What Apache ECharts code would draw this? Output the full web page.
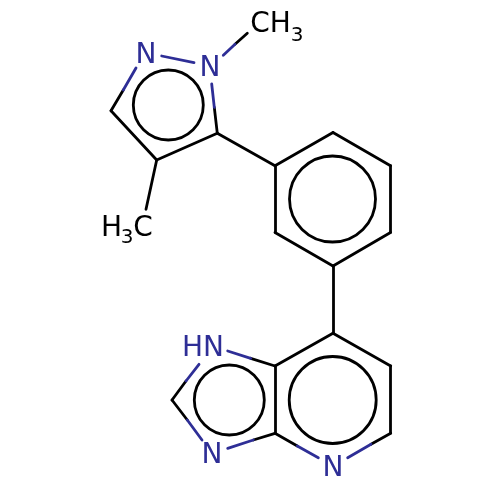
<!DOCTYPE html>
<html><head><meta charset="utf-8">
<style>html,body{margin:0;padding:0;background:#fff}#c{width:500px;height:500px}</style>
<script src="https://cdn.jsdelivr.net/npm/echarts@6/dist/echarts.min.js"></script>
</head><body><div id="c"></div>
<script>
const blackBonds = [
 [[123.3,90],[111,110.7]],[[111,110.7],[156.7,160]],[[156.7,160],[217.3,133.3]],
 [[214.3,107.3],[217.3,133.3]],[[235,44.3],[247.3,33.3]],[[156.7,160],[146,209.3]],
 [[217.3,133.3],[275,165.7]],
 [[275,165.7],[333,132.5]],[[333,132.5],[390.5,165.7]],[[390.5,165.7],[390.5,232.5]],
 [[390.5,232.5],[333,266]],[[333,266],[275,232.5]],[[275,232.5],[275,165.7]],
 [[333,266],[333,333.3]],
 [[333,333.3],[390.7,366]],[[390.7,366],[390.7,433.3]],[[371,444.3],[390.7,433.3]],
 [[275,433.3],[297.3,446]],[[275,433.3],[275,366]],[[275,366],[333,333.3]],
 [[250.7,358.3],[275,366]],[[186,381],[172,400]],[[172,400],[187.3,420]],[[253.3,440],[275,433.3]]
];
const blueBonds = [
 [[136,68],[123.3,90]],[[161.7,56],[194,62.7]],[[211.7,84],[214.3,107.3]],[[223.3,55.3],[235,44.3]],
 [[227.7,351],[250.7,358.3]],[[199,364.3],[186,381]],[[187.3,420],[202,440]],[[227.7,448.3],[253.3,440]],
 [[297.3,446],[318.3,457.7]],[[347.7,457.7],[371,444.3]]
];
const rings = [[168.3,105,35],[332.5,199,43],[229.3,400,35],[332.7,400,43.5]];
const blueLabels = [[146,56,'N'],[210,68.5,'N'],[203,349,'HN'],[212,455.5,'N'],[333,468.5,'N']];
const blackLabels = [[270.5,25,'CH'],[111.5,228.5,'H'],[143,228.5,'C']];
const subLabels = [[297,36,'3'],[127,238,'3']];
const BLACK='#000000', BLUE='#2e2e96';
const toLines = b => b.map(c => ({coords:c}));
const lineSeries = (b,color) => ({type:'lines',coordinateSystem:'cartesian2d',polyline:false,silent:true,
  lineStyle:{color,width:2.8,opacity:1,cap:'round',curveness:0},data:toLines(b),animation:false,z:2});
const textSeries = (d,color,size) => ({type:'scatter',symbolSize:0,silent:true,animation:false,z:3,
  itemStyle:{opacity:1},
  data:d,label:{show:true,position:'inside',formatter:p=>p.value[2],color,opacity:1,fontSize:size,
  fontFamily:'DejaVu Sans',align:'center',verticalAlign:'middle',textBorderWidth:0}});
const chart = echarts.init(document.getElementById('c'),null,{renderer:'canvas'});
chart.setOption({
  backgroundColor:'#fff',animation:false,
  grid:{left:0,right:0,top:0,bottom:0},
  xAxis:{type:'value',min:0,max:500,show:false},
  yAxis:{type:'value',min:0,max:500,inverse:true,show:false},
  series:[
    lineSeries(blackBonds,BLACK),
    lineSeries(blueBonds,BLUE),
    {type:'custom',silent:true,animation:false,z:2,data:rings,
      renderItem:(p,api)=>{const c=api.coord([api.value(0),api.value(1)]);const r=api.size([api.value(2),0])[0];
        return {type:'circle',shape:{cx:c[0],cy:c[1],r},style:{fill:'none',stroke:BLACK,lineWidth:2.8}};}},
    textSeries(blueLabels,BLUE,28),
    textSeries(blackLabels,BLACK,28),
    textSeries(subLabels,BLACK,20)
  ]
});
</script></body></html>
